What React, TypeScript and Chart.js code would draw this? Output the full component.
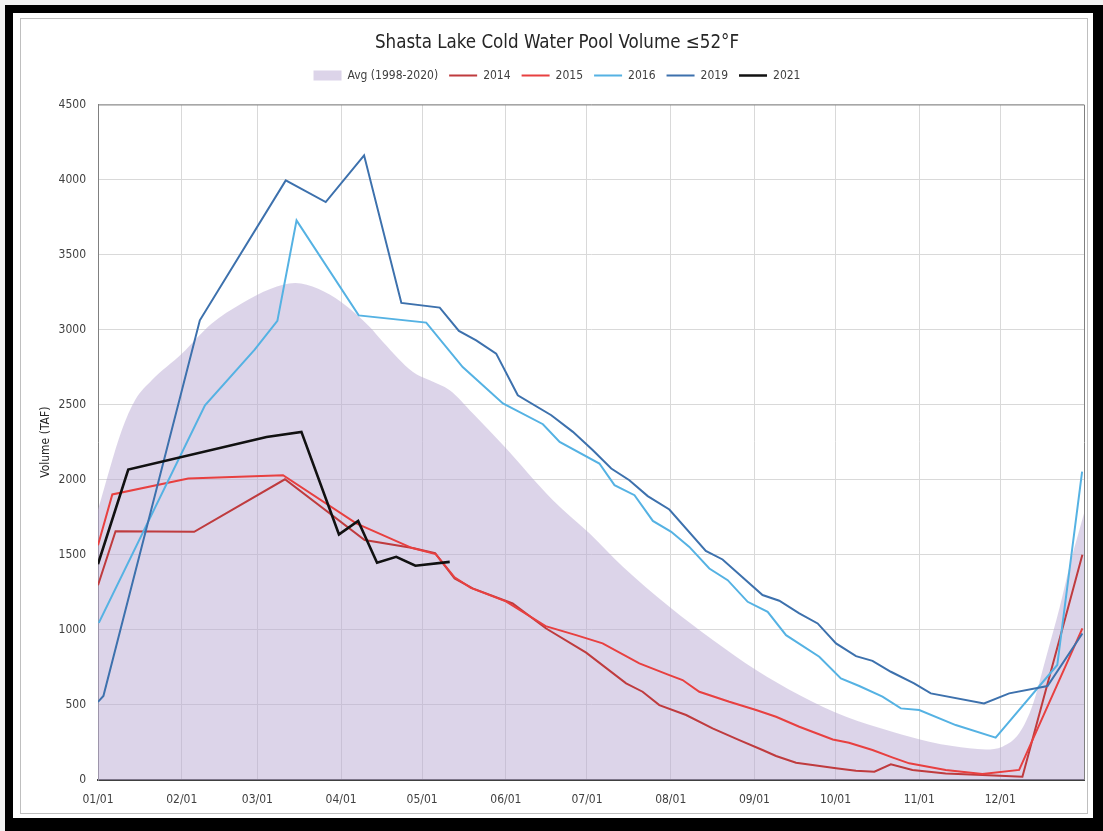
import React, { useEffect, useRef } from "react";
import { Chart, registerables } from "chart.js";

Chart.register(...registerables);

// ---- Axis ticks ----
const monthStartDays = [0, 31, 59, 90, 120, 151, 181, 212, 243, 273, 304, 334];
const monthLabels = ["01/01", "02/01", "03/01", "04/01", "05/01", "06/01", "07/01", "08/01", "09/01", "10/01", "11/01", "12/01"];

// ---- Avg (1998-2020) ----
const avgDays = [0, 8.8, 13.7, 19.9, 31, 42, 53, 64, 73, 81.5, 90, 100.6, 105.5, 116.6, 122.8, 130.2, 138.8, 150, 168.4, 182, 194.3, 211.5, 227.6, 243.6, 259.6, 276.9, 294, 307.7, 316.3, 328.7, 334.8, 341, 346, 351, 356, 360, 365];
const avgVals = [1800, 2330, 2530, 2663, 2840, 3040, 3173, 3273, 3311, 3273, 3184, 3018, 2918, 2718, 2663, 2596, 2441, 2230, 1864, 1642, 1420, 1154, 932, 732, 566, 421, 322, 255, 226, 204, 222, 311, 500, 820, 1150, 1450, 1775];

// ---- 2014 ----
const days2014 = [0, 6.5, 35.6, 69.2, 98.7, 116.5, 124.8, 132, 138.7, 153.5, 165.9, 180.7, 195.5, 201.6, 207.8, 217.7, 227.5, 237.4, 246, 251, 258.4, 264.5, 273.2, 280.6, 287.4, 293.5, 301.5, 313.8, 327.4, 342.2, 364.4];
const vals2014 = [1298, 1657, 1653, 2003, 1598, 1545, 1511, 1343, 1276, 1176, 1009, 848, 644, 588, 499, 433, 344, 266, 200, 160, 115, 100, 78, 62, 55, 104, 67, 44, 33, 22, 1500];

// ---- 2015 ----
const days2015 = [0, 5.3, 33.4, 68.5, 95.6, 116.3, 125, 132, 138, 151, 165.7, 177, 186.8, 200.4, 211.5, 216.4, 222.6, 233.7, 243.6, 251, 259.6, 272, 278, 286.7, 294, 300.3, 313.8, 327.4, 341, 364.4];
const vals2015 = [1564, 1902, 2008, 2030, 1710, 1545, 1505, 1350, 1280, 1190, 1025, 965, 910, 777, 699, 666, 588, 521, 466, 421, 355, 270, 248, 200, 151, 111, 67, 40, 67, 1010];

// ---- 2016 ----
const days2016 = [0.3, 39.6, 58, 66.4, 73.5, 96.5, 121.5, 135, 149.9, 164.7, 170.9, 185.6, 191.2, 198.6, 205.4, 212.2, 218.9, 226.3, 233.1, 240.5, 247.9, 254.7, 267, 275, 281.8, 290.4, 297.2, 304, 317.5, 332.3, 355.1, 364.3];
const vals2016 = [1047, 2496, 2867, 3058, 3728, 3095, 3047, 2751, 2508, 2370, 2252, 2108, 1964, 1897, 1726, 1653, 1553, 1409, 1331, 1187, 1120, 965, 821, 677, 626, 555, 477, 466, 366, 282, 766, 2055];

// ---- 2019 ----
const days2019 = [0, 2, 37.7, 69.5, 84.3, 98.5, 112.3, 126.5, 133.6, 140, 147.4, 155.4, 167.8, 175.8, 183.2, 190, 196.7, 203.5, 211.5, 225, 231.2, 246, 252.2, 259.6, 266.4, 273.2, 280.6, 286.7, 293.5, 302.1, 308.3, 328, 337.3, 351.5, 364.4];
const vals2019 = [520, 560, 3062, 3994, 3850, 4161, 3178, 3147, 2991, 2929, 2840, 2563, 2430, 2319, 2197, 2075, 1997, 1891, 1802, 1526, 1469, 1232, 1194, 1110, 1043, 910, 825, 794, 721, 643, 577, 510, 577, 626, 976];

// ---- 2021 ----
const days2021 = [0, 11.2, 62.4, 75.3, 89.2, 96.3, 103.3, 110.4, 117.5, 130.2];
const vals2021 = [1438, 2068, 2285, 2319, 1636, 1726, 1447, 1487, 1427, 1453];

const seriesNames = ["Avg (1998-2020)", "2014", "2015", "2016", "2019", "2021"];

const toPoints = (xs: number[], ys: number[]) => xs.map((x, i) => ({ x, y: ys[i] }));

const FONT = '"Liberation Sans Narrow", "DejaVu Sans Condensed", "Liberation Sans", sans-serif';
const AVG_FILL = "rgba(185,169,211,0.5)";

export default function App() {
  const canvasRef = useRef<HTMLCanvasElement | null>(null);

  useEffect(() => {
    if (!canvasRef.current) return;

    const borderPlugin = {
      id: "plotBorder",
      afterDraw(chart: any) {
        const { ctx, chartArea } = chart;
        ctx.save();
        ctx.strokeStyle = "#808080";
        ctx.lineWidth = 1;
        ctx.beginPath();
        ctx.moveTo(chartArea.left, chartArea.top + 0.5);
        ctx.lineTo(chartArea.right + 0.5, chartArea.top + 0.5);
        ctx.lineTo(chartArea.right + 0.5, chartArea.bottom);
        ctx.stroke();
        ctx.restore();
      },
    };

    const legendSpacer = {
      id: "legendSpacer",
      beforeInit(chart: any) {
        const legend = chart.legend;
        if (!legend) return;
        const origFit = legend.fit;
        legend.fit = function () {
          origFit.bind(legend)();
          legend.height += 13;
        };
      },
    };

    const lineDs = (label: string, xs: number[], ys: number[], color: string, width: number, order: number) => ({
      label,
      data: toPoints(xs, ys),
      borderColor: color,
      backgroundColor: color,
      borderWidth: width,
      pointRadius: 0,
      pointStyle: "line",
      tension: 0,
      fill: false,
      order,
    });

    const chart = new Chart(canvasRef.current, {
      type: "line",
      data: {
        datasets: [
          {
            label: seriesNames[0],
            data: toPoints(avgDays, avgVals),
            borderWidth: 0,
            borderColor: "rgba(0,0,0,0)",
            backgroundColor: AVG_FILL,
            pointRadius: 0,
            pointStyle: "rect",
            fill: "origin",
            cubicInterpolationMode: "monotone",
            order: 10,
          },
          lineDs(seriesNames[1], days2014, vals2014, "#bf3b3e", 2, 5),
          lineDs(seriesNames[2], days2015, vals2015, "#e84040", 2, 4),
          lineDs(seriesNames[3], days2016, vals2016, "#55b2e3", 2, 3),
          lineDs(seriesNames[4], days2019, vals2019, "#3d71ad", 2, 2),
          lineDs(seriesNames[5], days2021, vals2021, "#111111", 2.6, 1),
        ] as any,
      },
      options: {
        responsive: false,
        animation: false,
        layout: { padding: { left: 30, right: 19, top: 0, bottom: 21 } },
        plugins: {
          title: {
            display: true,
            text: "Shasta Lake Cold Water Pool Volume ≤52°F",
            color: "#262626",
            font: { family: FONT, size: 18.6, weight: "normal", lineHeight: 1.1 },
            padding: { top: 33, bottom: 5 },
          },
          legend: {
            display: true,
            position: "top",
            labels: {
              color: "#404040",
              font: { family: FONT, size: 12 },
              usePointStyle: true,
              pointStyleWidth: 28,
              boxHeight: 10,
              padding: 11,
              generateLabels: (c: any) => {
                const items = (Chart.defaults.plugins.legend.labels as any).generateLabels(c);
                items.sort((a: any, b: any) => a.datasetIndex - b.datasetIndex);
                items.forEach((it: any) => {
                  if (it.datasetIndex === 0) {
                    it.pointStyle = "rect";
                    it.lineWidth = 0;
                    it.fillStyle = AVG_FILL;
                  } else {
                    it.pointStyle = "line";
                    it.lineWidth = it.datasetIndex === 5 ? 2.6 : 2;
                  }
                });
                return items;
              },
            },
          },
          tooltip: { enabled: false },
        },
        scales: {
          x: {
            type: "linear",
            min: 0,
            max: 365,
            afterBuildTicks: (scale: any) => {
              scale.ticks = monthStartDays.map((v) => ({ value: v }));
            },
            afterFit: (scale: any) => {
              scale.height = 30;
            },
            ticks: {
              autoSkip: false,
              maxRotation: 0,
              padding: 13,
              color: "#404040",
              font: { family: FONT, size: 12 },
              callback: (value: any) => {
                const idx = monthStartDays.indexOf(Number(value));
                return idx >= 0 ? monthLabels[idx] : "";
              },
            },
            grid: { color: "#d9d9d9", lineWidth: 1, drawTicks: false },
            border: { display: true, color: "#404040", width: 2 },
          },
          y: {
            min: 0,
            max: 4500,
            ticks: {
              stepSize: 500,
              padding: 12,
              color: "#404040",
              font: { family: FONT, size: 12 },
              callback: (value: any) => String(value),
            },
            afterFit: (scale: any) => {
              scale.width = 68;
            },
            grid: { color: "#d9d9d9", lineWidth: 1, drawTicks: false },
            border: { display: true, color: "#808080", width: 1 },
            title: {
              display: true,
              text: "Volume (TAF)",
              color: "#262626",
              font: { family: FONT, size: 12 },
              padding: { top: 9, bottom: 0 },
            },
          },
        },
      } as any,
      plugins: [borderPlugin, legendSpacer],
    });

    return () => {
      chart.destroy();
    };
  }, []);

  return (
    <div style={{ position: "fixed", left: 0, top: 0, width: 1103, height: 831, background: "#f2f2f2", overflow: "hidden" }}>
      <div style={{ position: "absolute", left: 5, top: 5, width: 1098, height: 826, background: "#000" }} />
      <div style={{ position: "absolute", left: 13, top: 13, width: 1080, height: 805, background: "#fff" }} />
      <div style={{ position: "absolute", left: 20, top: 18, width: 1068, height: 796, border: "1px solid #bfbfbf", boxSizing: "border-box" }} />
      <canvas ref={canvasRef} width={1103} height={831} style={{ position: "absolute", left: 0, top: 0, width: 1103, height: 831 }} />
    </div>
  );
}
